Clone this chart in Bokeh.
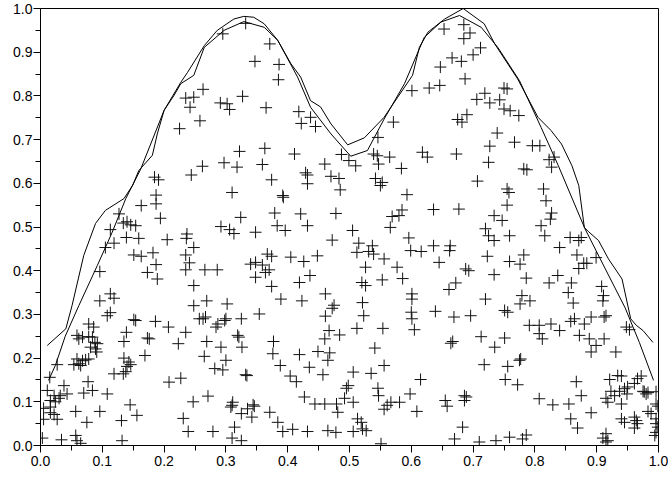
from bokeh.plotting import figure
from bokeh.models import FixedTicker, Range1d, ColumnDataSource
from bokeh.embed import file_html
from bokeh.resources import INLINE

# ---- sample points ----
pts_x = [
    0.295, 0.332, 0.235, 0.248, 0.263, 0.242, 0.225, 0.258, 0.291, 0.302, 0.306, 0.327, 0.322, 0.297, 0.318, 0.262,
    0.347, 0.371, 0.386, 0.385, 0.365, 0.418, 0.437, 0.422, 0.445, 0.363, 0.411, 0.359, 0.460, 0.487, 0.499, 0.510,
    0.546, 0.539, 0.545, 0.547, 0.565, 0.584, 0.571, 0.601, 0.629, 0.646, 0.647, 0.666, 0.653, 0.618, 0.626, 0.673,
    0.685, 0.695, 0.685, 0.712, 0.700, 0.681, 0.687, 0.750, 0.755, 0.719, 0.706, 0.727, 0.743, 0.750, 0.760, 0.774,
    0.690, 0.675, 0.682, 0.739, 0.727, 0.767, 0.796, 0.808, 0.725, 0.823, 0.831, 0.827, 0.782, 0.787,
    # band 0.32 - 0.64
    0.1845, 0.191, 0.244, 0.187, 0.187, 0.163, 0.194, 0.127, 0.134, 0.140, 0.146, 0.154, 0.113, 0.139, 0.159, 0.205,
    0.119, 0.105, 0.237, 0.236, 0.248, 0.151, 0.163, 0.182, 0.235, 0.187, 0.241, 0.235, 0.173, 0.189, 0.096, 0.248,
    0.113, 0.119, 0.096, 0.248,
    0.374, 0.432, 0.429, 0.432, 0.470, 0.483, 0.485, 0.310, 0.392, 0.393, 0.324, 0.379, 0.421, 0.478, 0.292, 0.306,
    0.313, 0.348, 0.383, 0.396, 0.432, 0.472, 0.505, 0.367, 0.374, 0.405, 0.426, 0.448, 0.340, 0.348, 0.359, 0.370,
    0.364, 0.266, 0.286, 0.348, 0.436, 0.419, 0.374, 0.461, 0.389, 0.423, 0.302, 0.269, 0.475, 0.472,
    0.542, 0.553, 0.550, 0.707, 0.755, 0.758, 0.593, 0.755, 0.636, 0.677, 0.585, 0.580, 0.569, 0.566, 0.734, 0.747,
    0.720, 0.725, 0.734, 0.759, 0.596, 0.515, 0.537, 0.512, 0.531, 0.539, 0.556, 0.599, 0.616, 0.636, 0.663, 0.662,
    0.645, 0.723, 0.759, 0.526, 0.577, 0.688, 0.693, 0.734, 0.553, 0.586, 0.520, 0.526, 0.672, 0.661, 0.601, 0.601,
    0.521, 0.720,
    0.814, 0.818, 0.827, 0.825, 0.810, 0.816, 0.857, 0.871, 0.875, 0.840, 0.868, 0.899, 0.879, 0.884, 0.871, 0.782,
    0.776, 0.786, 0.837, 0.823, 0.859, 0.854, 0.908, 0.911, 0.910, 0.862, 0.779, 0.792, 0.776,
    # band 0 - 0.32
    0.108, 0.113, 0.151, 0.154, 0.186, 0.207, 0.235, 0.223, 0.139, 0.135, 0.173, 0.176, 0.078, 0.086, 0.059, 0.068,
    0.078, 0.084, 0.062, 0.088, 0.092, 0.089, 0.081, 0.091, 0.169, 0.135, 0.143, 0.140, 0.146, 0.059, 0.062, 0.068,
    0.073, 0.078, 0.054, 0.065, 0.027, 0.015, 0.138, 0.134, 0.119, 0.077, 0.084, 0.070, 0.038, 0.043, 0.032, 0.022,
    0.011, 0.016, 0.024, 0.030, 0.108, 0.208, 0.227, 0.005, 0.016, 0.016, 0.022, 0.005, 0.027, 0.057, 0.075, 0.096,
    0.145, 0.156, 0.131, 0.231, 0.239, 0.247, 0.034, 0.057, 0.059, 0.065, 0.132, 0.003,
    0.263, 0.267, 0.257, 0.300, 0.298, 0.325, 0.354, 0.287, 0.284, 0.269, 0.292, 0.265, 0.300, 0.282, 0.295, 0.319,
    0.321, 0.326, 0.332, 0.334, 0.377, 0.376, 0.388, 0.419, 0.404, 0.414, 0.435, 0.449, 0.468, 0.465, 0.457, 0.460,
    0.467, 0.484, 0.461, 0.506, 0.498, 0.495, 0.492, 0.427, 0.444, 0.460, 0.479, 0.481, 0.506, 0.271, 0.311, 0.310,
    0.308, 0.335, 0.344, 0.346, 0.325, 0.342, 0.371, 0.384, 0.392, 0.408, 0.432, 0.465, 0.478, 0.506, 0.279, 0.314,
    0.310, 0.325,
    0.523, 0.512, 0.554, 0.600, 0.601, 0.605, 0.639, 0.669, 0.696, 0.751, 0.756, 0.541, 0.556, 0.535, 0.546, 0.547,
    0.567, 0.581, 0.561, 0.556, 0.598, 0.615, 0.609, 0.664, 0.667, 0.655, 0.658, 0.686, 0.689, 0.686, 0.713, 0.735,
    0.751, 0.718, 0.756, 0.752, 0.513, 0.519, 0.521, 0.527, 0.683, 0.670, 0.551, 0.710, 0.737, 0.759,
    0.791, 0.807, 0.826, 0.807, 0.812, 0.840, 0.858, 0.864, 0.880, 0.891, 0.912, 0.915, 0.872, 0.888, 0.912, 0.899,
    0.891, 0.931, 0.948, 0.953, 0.775, 0.777, 0.772, 0.867, 0.875, 0.807, 0.829, 0.855, 0.891, 0.858, 0.869, 0.921,
    0.934, 0.940, 0.923, 0.929, 0.915, 0.918, 0.940, 0.937, 0.945, 0.950, 0.949, 0.961, 0.966, 0.972, 0.977, 0.980,
    0.983, 0.975, 0.996, 0.996, 0.999, 0.983, 0.988, 0.940, 0.945, 0.961, 0.964, 0.966, 0.961, 0.996, 0.996, 0.999,
    0.994, 0.996, 0.910, 0.915, 0.918, 0.915, 0.780, 0.786,
]
pts_y = [
    0.942, 0.966, 0.795, 0.797, 0.815, 0.774, 0.725, 0.743, 0.784, 0.782, 0.769, 0.799, 0.673, 0.647, 0.637, 0.639,
    0.879, 0.919, 0.872, 0.837, 0.773, 0.764, 0.751, 0.737, 0.730, 0.680, 0.667, 0.643, 0.644, 0.666, 0.652, 0.640,
    0.705, 0.667, 0.663, 0.644, 0.660, 0.634, 0.740, 0.812, 0.818, 0.824, 0.866, 0.887, 0.953, 0.671, 0.660, 0.667,
    0.963, 0.944, 0.931, 0.910, 0.894, 0.879, 0.839, 0.818, 0.816, 0.806, 0.792, 0.784, 0.791, 0.770, 0.766, 0.755,
    0.757, 0.746, 0.740, 0.715, 0.685, 0.694, 0.686, 0.686, 0.648, 0.654, 0.660, 0.637, 0.633, 0.631,
    0.614, 0.608, 0.619, 0.573, 0.553, 0.549, 0.520, 0.530, 0.509, 0.512, 0.505, 0.503, 0.494, 0.476, 0.474, 0.471,
    0.463, 0.453, 0.484, 0.474, 0.453, 0.436, 0.433, 0.441, 0.436, 0.414, 0.418, 0.402, 0.396, 0.381, 0.398, 0.366,
    0.347, 0.337, 0.331, 0.320,
    0.608, 0.619, 0.624, 0.599, 0.616, 0.611, 0.585, 0.579, 0.572, 0.568, 0.522, 0.532, 0.530, 0.531, 0.501, 0.494,
    0.485, 0.488, 0.503, 0.492, 0.503, 0.470, 0.492, 0.438, 0.433, 0.431, 0.421, 0.434, 0.415, 0.419, 0.413, 0.402,
    0.396, 0.402, 0.402, 0.385, 0.389, 0.373, 0.364, 0.347, 0.335, 0.331, 0.324, 0.331, 0.321, 0.314,
    0.611, 0.602, 0.595, 0.605, 0.587, 0.579, 0.574, 0.550, 0.540, 0.541, 0.539, 0.526, 0.524, 0.499, 0.526, 0.515,
    0.496, 0.480, 0.469, 0.480, 0.475, 0.463, 0.457, 0.442, 0.444, 0.438, 0.427, 0.446, 0.444, 0.457, 0.457, 0.446,
    0.419, 0.433, 0.421, 0.408, 0.408, 0.404, 0.400, 0.391, 0.379, 0.382, 0.373, 0.366, 0.372, 0.357, 0.347, 0.335,
    0.327, 0.335,
    0.587, 0.560, 0.532, 0.518, 0.503, 0.480, 0.476, 0.469, 0.476, 0.453, 0.436, 0.430, 0.417, 0.417, 0.405, 0.436,
    0.415, 0.383, 0.389, 0.372, 0.372, 0.350, 0.364, 0.343, 0.331, 0.326, 0.343, 0.331, 0.324,
    0.297, 0.304, 0.288, 0.286, 0.284, 0.271, 0.259, 0.233, 0.259, 0.238, 0.246, 0.244, 0.278, 0.271, 0.252, 0.248,
    0.249, 0.248, 0.244, 0.236, 0.233, 0.221, 0.225, 0.214, 0.206, 0.200, 0.191, 0.181, 0.185, 0.198, 0.187, 0.194,
    0.196, 0.198, 0.185, 0.183, 0.185, 0.156, 0.169, 0.164, 0.164, 0.146, 0.126, 0.120, 0.137, 0.118, 0.114, 0.114,
    0.126, 0.103, 0.100, 0.108, 0.118, 0.145, 0.154, 0.085, 0.088, 0.075, 0.071, 0.060, 0.060, 0.078, 0.053, 0.078,
    0.093, 0.069, 0.057, 0.062, 0.032, 0.100, 0.013, 0.023, 0.011, 0.005, 0.011, 0.017,
    0.290, 0.294, 0.290, 0.290, 0.286, 0.290, 0.301, 0.278, 0.271, 0.238, 0.225, 0.204, 0.195, 0.176, 0.173, 0.252,
    0.248, 0.225, 0.162, 0.160, 0.238, 0.210, 0.183, 0.208, 0.159, 0.146, 0.179, 0.215, 0.212, 0.195, 0.162, 0.244,
    0.263, 0.253, 0.296, 0.168, 0.137, 0.131, 0.108, 0.111, 0.095, 0.095, 0.095, 0.076, 0.099, 0.113, 0.099, 0.092,
    0.088, 0.084, 0.093, 0.090, 0.073, 0.065, 0.076, 0.053, 0.032, 0.037, 0.032, 0.034, 0.030, 0.032, 0.032, 0.042,
    0.017, 0.011,
    0.297, 0.268, 0.268, 0.305, 0.290, 0.265, 0.307, 0.294, 0.297, 0.309, 0.305, 0.223, 0.183, 0.165, 0.131, 0.114,
    0.099, 0.099, 0.092, 0.083, 0.118, 0.151, 0.078, 0.234, 0.238, 0.103, 0.090, 0.114, 0.111, 0.103, 0.249, 0.225,
    0.246, 0.185, 0.181, 0.151, 0.061, 0.053, 0.038, 0.034, 0.042, 0.015, 0.004, 0.008, 0.011, 0.019,
    0.275, 0.275, 0.278, 0.256, 0.244, 0.263, 0.284, 0.290, 0.278, 0.294, 0.294, 0.297, 0.252, 0.244, 0.244, 0.229,
    0.214, 0.214, 0.271, 0.265, 0.195, 0.198, 0.139, 0.146, 0.114, 0.107, 0.093, 0.095, 0.075, 0.061, 0.040, 0.151,
    0.160, 0.159, 0.124, 0.114, 0.108, 0.099, 0.095, 0.124, 0.130, 0.134, 0.118, 0.142, 0.153, 0.159, 0.123, 0.118,
    0.121, 0.124, 0.123, 0.095, 0.090, 0.078, 0.073, 0.061, 0.053, 0.065, 0.057, 0.050, 0.040, 0.061, 0.050, 0.042,
    0.023, 0.030, 0.017, 0.027, 0.011, 0.008, 0.015, 0.024,
]

# ---- smooth curve ----
smooth_x = [0.013, 0.024, 0.040, 0.062, 0.092, 0.116, 0.138, 0.162, 0.200, 0.227, 0.238, 0.265, 0.286, 0.313,
            0.329, 0.345, 0.362, 0.384, 0.416, 0.437, 0.470, 0.502, 0.529, 0.556, 0.589, 0.621, 0.648, 0.678,
            0.713, 0.740, 0.775, 0.810, 0.838, 0.881, 0.914, 0.946, 0.969, 0.992]
smooth_y = [0.149, 0.183, 0.250, 0.320, 0.412, 0.488, 0.565, 0.632, 0.767, 0.831, 0.854, 0.915, 0.950, 0.976,
            0.982, 0.980, 0.965, 0.927, 0.843, 0.774, 0.713, 0.662, 0.675, 0.747, 0.828, 0.934, 0.969, 0.984,
            0.957, 0.911, 0.835, 0.728, 0.640, 0.496, 0.404, 0.315, 0.236, 0.149]

# ---- estimated (wiggly) curve ----
est_x = [0.011, 0.041, 0.051, 0.070, 0.089, 0.105, 0.135, 0.149, 0.159, 0.181, 0.189, 0.200, 0.216, 0.227,
         0.248, 0.265, 0.297, 0.329, 0.362, 0.384, 0.405, 0.421, 0.437, 0.453, 0.470, 0.497, 0.524, 0.556,
         0.578, 0.602, 0.613, 0.627, 0.654, 0.684, 0.718, 0.735, 0.772, 0.805, 0.826, 0.843, 0.860, 0.871,
         0.880, 0.887, 0.903, 0.919, 0.941, 0.955, 0.964, 0.975, 0.991]
est_y = [0.229, 0.267, 0.320, 0.435, 0.508, 0.538, 0.565, 0.595, 0.629, 0.664, 0.713, 0.767, 0.801, 0.828,
         0.847, 0.911, 0.950, 0.970, 0.957, 0.927, 0.874, 0.843, 0.789, 0.775, 0.736, 0.688, 0.704, 0.751,
         0.797, 0.847, 0.911, 0.946, 0.976, 1.000, 0.965, 0.919, 0.839, 0.751, 0.721, 0.690, 0.640, 0.595,
         0.499, 0.489, 0.469, 0.427, 0.381, 0.290, 0.275, 0.263, 0.236]

tick_values = [0.0, 0.1, 0.2, 0.3, 0.4, 0.5, 0.6, 0.7, 0.8, 0.9, 1.0]
tick_labels = ["0.0", "0.1", "0.2", "0.3", "0.4", "0.5", "0.6", "0.7", "0.8", "0.9", "1.0"]
minor_values = [0.05, 0.15, 0.25, 0.35, 0.45, 0.55, 0.65, 0.75, 0.85, 0.95]

p = figure(frame_width=618, frame_height=437,
           x_range=Range1d(0, 1), y_range=Range1d(0, 1),
           output_backend="svg", toolbar_location=None,
           min_border_left=40, min_border_right=10, min_border_top=8, min_border_bottom=29)
p.grid.visible = False
p.background_fill_color = "white"
p.border_fill_color = "white"
p.outline_line_color = "black"
p.outline_line_alpha = 1.0
p.outline_line_width = 1

for ax in (p.xaxis[0], p.yaxis[0]):
    ax.ticker = FixedTicker(ticks=tick_values, minor_ticks=minor_values)
    ax.major_label_overrides = dict(zip(tick_values, tick_labels))
    ax.axis_line_color = "black"
    ax.major_tick_line_color = "black"
    ax.minor_tick_line_color = "black"
    ax.major_tick_out = 7
    ax.major_tick_in = 0
    ax.minor_tick_out = 5
    ax.minor_tick_in = 0
    ax.major_label_text_font = "Liberation Sans"
    ax.major_label_text_font_size = "14px"
    ax.major_label_text_color = "black"
p.xaxis[0].major_label_standoff = 3
p.yaxis[0].major_label_standoff = 1

src = ColumnDataSource(dict(x=pts_x, y=pts_y))
p.scatter("x", "y", source=src, marker="cross", size=12, line_color="#111111", line_width=1)
p.line(smooth_x, smooth_y, line_color="black", line_width=1)
p.line(est_x, est_y, line_color="black", line_width=1)

html = file_html(p, INLINE)
html = html.replace("<head>", "<head><style>html, body { margin: 0 !important; padding: 0 !important; }</style>", 1)
open("out.html", "w").write(html)
